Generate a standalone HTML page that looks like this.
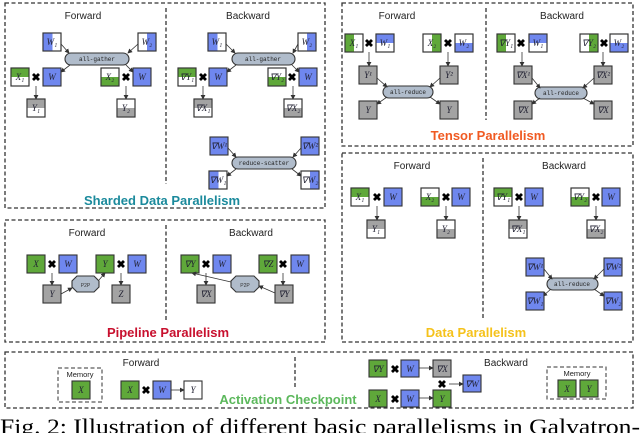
<!DOCTYPE html><html><head><meta charset="utf-8"><style>
body{margin:0;background:#fff}
svg text{font-family:"Liberation Sans",sans-serif}
.l{font-family:"Liberation Serif",serif;font-style:italic;font-size:9px;fill:#223;text-anchor:middle}
.h{font-size:10px;fill:#222;text-anchor:middle}
.op{font-family:"Liberation Mono",monospace;font-size:6px;fill:#222;text-anchor:middle}
.d{fill:none;stroke:#333;stroke-width:1.3;stroke-dasharray:4,2.5}
.b{stroke:#333;stroke-width:1.1}
.a{stroke:#333;stroke-width:0.8;fill:none;marker-end:url(#ar)}
.x{font-size:11px;font-weight:bold;text-anchor:middle;fill:#000}
.t{font-weight:bold;font-size:13px;text-anchor:middle}
</style></head><body>
<svg width="640" height="433" viewBox="0 0 640 433">
<defs><marker id="ar" markerWidth="6" markerHeight="6" refX="5" refY="3" orient="auto"><path d="M0,0L6,3L0,6z" fill="#333"/></marker></defs>
<rect class="d" x="5" y="3" width="320" height="205"/><line class="d" x1="166" y1="8" x2="166" y2="184"/>
<rect class="d" x="342" y="3" width="291" height="143"/><line class="d" x1="486" y1="8" x2="486" y2="120"/>
<rect class="d" x="342" y="153" width="291" height="189"/><line class="d" x1="483" y1="158" x2="483" y2="318"/>
<rect class="d" x="5" y="220" width="320" height="122"/><line class="d" x1="166" y1="225" x2="166" y2="322"/>
<rect class="d" x="5" y="352" width="628" height="56"/><line class="d" x1="295" y1="357" x2="295" y2="387"/>
<text class="h" x="83" y="19">Forward</text><text class="h" x="248" y="19">Backward</text>
<text class="h" x="397" y="19">Forward</text><text class="h" x="562" y="19">Backward</text>
<text class="h" x="412" y="169">Forward</text><text class="h" x="564" y="169">Backward</text>
<text class="h" x="87" y="236">Forward</text><text class="h" x="251" y="236">Backward</text>
<text class="h" x="141" y="366">Forward</text><text class="h" x="506" y="366">Backward</text>
<text class="t" x="162" y="205" fill="#1b8a9c">Sharded Data Parallelism</text>
<text class="t" x="488" y="140" fill="#f05a22">Tensor Parallelism</text>
<text class="t" x="476" y="337" fill="#f5c21b">Data Parallelism</text>
<text class="t" x="168" y="337" fill="#c8102e">Pipeline Parallelism</text>
<text class="t" x="288" y="404" fill="#5cb85c">Activation Checkpoint</text>

<g>
<rect class="b" x="43" y="33" width="18" height="18" fill="#fff"/><rect x="43.5" y="33.5" width="9" height="17" fill="#6f87ee"/><rect class="b" x="43" y="33" width="18" height="18" fill="none"/><text class="l" x="52" y="45">W₁</text>
<rect class="b" x="138" y="33" width="18" height="18" fill="#fff"/><rect x="147" y="33.5" width="8.5" height="17" fill="#6f87ee"/><rect class="b" x="138" y="33" width="18" height="18" fill="none"/><text class="l" x="147" y="45">W₂</text>
<rect class="b" x="65" y="53" width="64" height="12" rx="6" fill="#b0bccb"/><text class="op" x="97" y="61">all-gather</text>
<path class="a" d="M61,44L69,53"/><path class="a" d="M138,44L128,53"/><path class="a" d="M70,65L61,72"/><path class="a" d="M126,65L133,72"/>
<rect class="b" x="11" y="68" width="18" height="18" fill="#fff"/><rect x="11.5" y="68.5" width="17" height="8.5" fill="#5fa83a"/><rect class="b" x="11" y="68" width="18" height="18" fill="none"/><text class="l" x="20" y="80">X₁</text>
<text class="x" x="36" y="81">✖</text>
<rect class="b" x="43" y="68" width="18" height="18" fill="#6f87ee"/><text class="l" x="52" y="80">W</text>
<rect class="b" x="101" y="68" width="18" height="18" fill="#fff"/><rect x="101.5" y="77" width="17" height="8.5" fill="#5fa83a"/><rect class="b" x="101" y="68" width="18" height="18" fill="none"/><text class="l" x="110" y="80">X₂</text>
<text class="x" x="126" y="81">✖</text>
<rect class="b" x="133" y="68" width="18" height="18" fill="#6f87ee"/><text class="l" x="142" y="80">W</text>
<path class="a" d="M36,86L36,99"/><path class="a" d="M126,86L126,99"/>
<rect class="b" x="27" y="99" width="18" height="18" fill="#fff"/><rect x="27.5" y="99.5" width="17" height="8.5" fill="#a3a3a3"/><rect class="b" x="27" y="99" width="18" height="18" fill="none"/><text class="l" x="36" y="111">Y₁</text>
<rect class="b" x="117" y="99" width="18" height="18" fill="#fff"/><rect x="117.5" y="108" width="17" height="8.5" fill="#a3a3a3"/><rect class="b" x="117" y="99" width="18" height="18" fill="none"/><text class="l" x="126" y="111">Y₂</text>
</g>
<g>
<rect class="b" x="208" y="33" width="18" height="18" fill="#fff"/><rect x="208.5" y="33.5" width="9" height="17" fill="#6f87ee"/><rect class="b" x="208" y="33" width="18" height="18" fill="none"/><text class="l" x="217" y="45">W₁</text>
<rect class="b" x="298" y="33" width="18" height="18" fill="#fff"/><rect x="307" y="33.5" width="8.5" height="17" fill="#6f87ee"/><rect class="b" x="298" y="33" width="18" height="18" fill="none"/><text class="l" x="307" y="45">W₂</text>
<rect class="b" x="232" y="53" width="63" height="12" rx="6" fill="#b0bccb"/><text class="op" x="263" y="61">all-gather</text>
<path class="a" d="M226,44L235,53"/><path class="a" d="M298,44L293,53"/><path class="a" d="M236,65L227,72"/><path class="a" d="M292,65L299,72"/>
<rect class="b" x="178" y="68" width="18" height="18" fill="#fff"/><rect x="178.5" y="68.5" width="17" height="8.5" fill="#5fa83a"/><rect class="b" x="178" y="68" width="18" height="18" fill="none"/><text class="l" x="187" y="80">∇Y₁</text>
<text class="x" x="203" y="81">✖</text>
<rect class="b" x="209" y="68" width="18" height="18" fill="#6f87ee"/><text class="l" x="218" y="80">W</text>
<rect class="b" x="268" y="68" width="18" height="18" fill="#fff"/><rect x="268.5" y="77" width="17" height="8.5" fill="#5fa83a"/><rect class="b" x="268" y="68" width="18" height="18" fill="none"/><text class="l" x="277" y="80">∇Y₂</text>
<text class="x" x="292" y="81">✖</text>
<rect class="b" x="299" y="68" width="18" height="18" fill="#6f87ee"/><text class="l" x="308" y="80">W</text>
<path class="a" d="M203,86L203,99"/><path class="a" d="M293,86L293,99"/>
<rect class="b" x="194" y="99" width="18" height="18" fill="#fff"/><rect x="194.5" y="99.5" width="17" height="8.5" fill="#a3a3a3"/><rect class="b" x="194" y="99" width="18" height="18" fill="none"/><text class="l" x="203" y="111">∇X₁</text>
<rect class="b" x="284" y="99" width="18" height="18" fill="#fff"/><rect x="284.5" y="108" width="17" height="8.5" fill="#a3a3a3"/><rect class="b" x="284" y="99" width="18" height="18" fill="none"/><text class="l" x="293" y="111">∇X₂</text>
<rect class="b" x="210" y="137" width="18" height="18" fill="#6f87ee"/><text class="l" x="219" y="149">∇W¹</text>
<rect class="b" x="301" y="137" width="18" height="18" fill="#6f87ee"/><text class="l" x="310" y="149">∇W²</text>
<rect class="b" x="232" y="157" width="64" height="12" rx="6" fill="#b0bccb"/><text class="op" x="264" y="165">reduce-scatter</text>
<path class="a" d="M228,148L236,157"/><path class="a" d="M301,148L293,157"/><path class="a" d="M236,169L227,176"/><path class="a" d="M292,169L301,176"/>
<rect class="b" x="209" y="171" width="18" height="18" fill="#fff"/><rect x="209.5" y="171.5" width="9" height="17" fill="#6f87ee"/><rect class="b" x="209" y="171" width="18" height="18" fill="none"/><text class="l" x="218" y="183">∇W₁</text>
<rect class="b" x="301" y="171" width="18" height="18" fill="#fff"/><rect x="310" y="171.5" width="8.5" height="17" fill="#6f87ee"/><rect class="b" x="301" y="171" width="18" height="18" fill="none"/><text class="l" x="310" y="183">∇W₂</text>
</g>
<g>
<rect class="b" x="345" y="34" width="18" height="18" fill="#fff"/><rect x="345.5" y="34.5" width="8.5" height="17" fill="#5fa83a"/><rect class="b" x="345" y="34" width="18" height="18" fill="none"/><text class="l" x="354" y="46">X₁</text>
<text class="x" x="369" y="47">✖</text>
<rect class="b" x="376" y="34" width="18" height="18" fill="#fff"/><rect x="376.5" y="34.5" width="17" height="8.5" fill="#6f87ee"/><rect class="b" x="376" y="34" width="18" height="18" fill="none"/><text class="l" x="385" y="46">W₁</text>
<rect class="b" x="423" y="34" width="18" height="18" fill="#fff"/><rect x="432" y="34.5" width="8.5" height="17" fill="#5fa83a"/><rect class="b" x="423" y="34" width="18" height="18" fill="none"/><text class="l" x="432" y="46">X₂</text>
<text class="x" x="448" y="47">✖</text>
<rect class="b" x="455" y="34" width="18" height="18" fill="#fff"/><rect x="455.5" y="43" width="17" height="8.5" fill="#6f87ee"/><rect class="b" x="455" y="34" width="18" height="18" fill="none"/><text class="l" x="464" y="46">W₂</text>
<path class="a" d="M369,52L369,66"/><path class="a" d="M448,52L448,66"/>
<rect class="b" x="359" y="66" width="18" height="18" fill="#a3a3a3"/><text class="l" x="368" y="78">Y¹</text>
<rect class="b" x="440" y="66" width="18" height="18" fill="#a3a3a3"/><text class="l" x="449" y="78">Y²</text>
<rect class="b" x="383" y="86" width="50" height="12" rx="6" fill="#b0bccb"/><text class="op" x="408" y="94">all-reduce</text>
<path class="a" d="M377,78L387,87"/><path class="a" d="M440,78L430,87"/><path class="a" d="M387,97L377,104"/><path class="a" d="M430,97L440,104"/>
<rect class="b" x="359" y="101" width="18" height="18" fill="#a3a3a3"/><text class="l" x="368" y="113">Y</text>
<rect class="b" x="440" y="101" width="18" height="18" fill="#a3a3a3"/><text class="l" x="449" y="113">Y</text>

<rect class="b" x="497" y="34" width="18" height="18" fill="#fff"/><rect x="497.5" y="34.5" width="8.5" height="17" fill="#5fa83a"/><rect class="b" x="497" y="34" width="18" height="18" fill="none"/><text class="l" x="506" y="46">∇Y₁</text>
<text class="x" x="521" y="47">✖</text>
<rect class="b" x="529" y="34" width="18" height="18" fill="#fff"/><rect x="529.5" y="34.5" width="17" height="8.5" fill="#6f87ee"/><rect class="b" x="529" y="34" width="18" height="18" fill="none"/><text class="l" x="538" y="46">W₁</text>
<rect class="b" x="580" y="34" width="18" height="18" fill="#fff"/><rect x="589" y="34.5" width="8.5" height="17" fill="#5fa83a"/><rect class="b" x="580" y="34" width="18" height="18" fill="none"/><text class="l" x="589" y="46">∇Y₂</text>
<text class="x" x="604" y="47">✖</text>
<rect class="b" x="610" y="34" width="18" height="18" fill="#fff"/><rect x="610.5" y="43" width="17" height="8.5" fill="#6f87ee"/><rect class="b" x="610" y="34" width="18" height="18" fill="none"/><text class="l" x="619" y="46">W₂</text>
<path class="a" d="M522,52L522,66"/><path class="a" d="M603,52L603,66"/>
<rect class="b" x="514" y="66" width="18" height="18" fill="#a3a3a3"/><text class="l" x="523" y="78">∇X¹</text>
<rect class="b" x="594" y="66" width="18" height="18" fill="#a3a3a3"/><text class="l" x="603" y="78">∇X²</text>
<rect class="b" x="535" y="87" width="52" height="12" rx="6" fill="#b0bccb"/><text class="op" x="561" y="95">all-reduce</text>
<path class="a" d="M532,78L540,88"/><path class="a" d="M594,78L583,88"/><path class="a" d="M540,98L532,104"/><path class="a" d="M583,98L594,104"/>
<rect class="b" x="514" y="101" width="18" height="18" fill="#a3a3a3"/><text class="l" x="523" y="113">∇X</text>
<rect class="b" x="594" y="101" width="18" height="18" fill="#a3a3a3"/><text class="l" x="603" y="113">∇X</text>
</g>
<g>
<rect class="b" x="351" y="188" width="18" height="18" fill="#fff"/><rect x="351.5" y="188.5" width="17" height="8.5" fill="#5fa83a"/><rect class="b" x="351" y="188" width="18" height="18" fill="none"/><text class="l" x="360" y="200">X₁</text>
<text class="x" x="377" y="201">✖</text>
<rect class="b" x="384" y="188" width="18" height="18" fill="#6f87ee"/><text class="l" x="393" y="200">W</text>
<rect class="b" x="421" y="188" width="18" height="18" fill="#fff"/><rect x="421.5" y="197" width="17" height="8.5" fill="#5fa83a"/><rect class="b" x="421" y="188" width="18" height="18" fill="none"/><text class="l" x="430" y="200">X₂</text>
<text class="x" x="446" y="201">✖</text>
<rect class="b" x="452" y="188" width="18" height="18" fill="#6f87ee"/><text class="l" x="461" y="200">W</text>
<path class="a" d="M377,206L377,220"/><path class="a" d="M446,206L446,220"/>
<rect class="b" x="367" y="220" width="18" height="18" fill="#fff"/><rect x="367.5" y="220.5" width="17" height="8.5" fill="#a3a3a3"/><rect class="b" x="367" y="220" width="18" height="18" fill="none"/><text class="l" x="376" y="232">Y₁</text>
<rect class="b" x="437" y="220" width="18" height="18" fill="#fff"/><rect x="437.5" y="229" width="17" height="8.5" fill="#a3a3a3"/><rect class="b" x="437" y="220" width="18" height="18" fill="none"/><text class="l" x="446" y="232">Y₂</text>

<rect class="b" x="494" y="188" width="18" height="18" fill="#fff"/><rect x="494.5" y="188.5" width="17" height="8.5" fill="#5fa83a"/><rect class="b" x="494" y="188" width="18" height="18" fill="none"/><text class="l" x="503" y="200">∇Y₁</text>
<text class="x" x="519" y="201">✖</text>
<rect class="b" x="525" y="188" width="18" height="18" fill="#6f87ee"/><text class="l" x="534" y="200">W</text>
<rect class="b" x="571" y="188" width="18" height="18" fill="#fff"/><rect x="571.5" y="197" width="17" height="8.5" fill="#5fa83a"/><rect class="b" x="571" y="188" width="18" height="18" fill="none"/><text class="l" x="580" y="200">∇Y₂</text>
<text class="x" x="596" y="201">✖</text>
<rect class="b" x="602" y="188" width="18" height="18" fill="#6f87ee"/><text class="l" x="611" y="200">W</text>
<path class="a" d="M519,206L519,220"/><path class="a" d="M596,206L596,220"/>
<rect class="b" x="509" y="220" width="18" height="18" fill="#fff"/><rect x="509.5" y="220.5" width="17" height="8.5" fill="#a3a3a3"/><rect class="b" x="509" y="220" width="18" height="18" fill="none"/><text class="l" x="518" y="232">∇X₁</text>
<rect class="b" x="587" y="220" width="18" height="18" fill="#fff"/><rect x="587.5" y="229" width="17" height="8.5" fill="#a3a3a3"/><rect class="b" x="587" y="220" width="18" height="18" fill="none"/><text class="l" x="596" y="232">∇X₂</text>
<rect class="b" x="526" y="258" width="18" height="18" fill="#6f87ee"/><text class="l" x="535" y="270">∇W¹</text>
<rect class="b" x="604" y="258" width="18" height="18" fill="#6f87ee"/><text class="l" x="613" y="270">∇W²</text>
<rect class="b" x="547" y="278" width="51" height="12" rx="6" fill="#b0bccb"/><text class="op" x="572" y="286">all-reduce</text>
<path class="a" d="M544,269L552,279"/><path class="a" d="M604,269L594,279"/><path class="a" d="M551,289L543,296"/><path class="a" d="M594,289L604,296"/>
<rect class="b" x="526" y="292" width="18" height="18" fill="#6f87ee"/><text class="l" x="535" y="304">∇W₁</text>
<rect class="b" x="604" y="292" width="18" height="18" fill="#6f87ee"/><text class="l" x="613" y="304">∇W₂</text>
</g>
<g>
<rect class="b" x="27" y="255" width="18" height="18" fill="#5fa83a"/><text class="l" x="36" y="267">X</text>
<text class="x" x="52" y="268">✖</text>
<rect class="b" x="59" y="255" width="18" height="18" fill="#6f87ee"/><text class="l" x="68" y="267">W</text>
<rect class="b" x="96" y="255" width="18" height="18" fill="#5fa83a"/><text class="l" x="105" y="267">Y</text>
<text class="x" x="121" y="268">✖</text>
<rect class="b" x="128" y="255" width="18" height="18" fill="#6f87ee"/><text class="l" x="137" y="267">W</text>
<path class="a" d="M52,273L52,285"/><path class="a" d="M121,273L121,285"/>
<rect class="b" x="43" y="285" width="18" height="18" fill="#a3a3a3"/><text class="l" x="52" y="297">Y</text>
<path class="b" d="M77,276H94L99,281V287L94,292H77L72,287V281Z" fill="#b0bccb"/><text x="85.5" y="287" font-size="5" text-anchor="middle" fill="#333">P2P</text>
<path class="a" d="M61,294L72,288"/><path class="a" d="M99,280L105,273"/>
<rect class="b" x="112" y="285" width="18" height="18" fill="#a3a3a3"/><text class="l" x="121" y="297">Z</text>

<rect class="b" x="181" y="255" width="18" height="18" fill="#5fa83a"/><text class="l" x="190" y="267">∇Y</text>
<text class="x" x="206" y="268">✖</text>
<rect class="b" x="213" y="255" width="18" height="18" fill="#6f87ee"/><text class="l" x="222" y="267">W</text>
<rect class="b" x="259" y="255" width="18" height="18" fill="#5fa83a"/><text class="l" x="268" y="267">∇Z</text>
<text class="x" x="283" y="268">✖</text>
<rect class="b" x="291" y="255" width="18" height="18" fill="#6f87ee"/><text class="l" x="300" y="267">W</text>
<path class="a" d="M206,273L206,285"/><path class="a" d="M283,273L283,285"/>
<rect class="b" x="197" y="285" width="18" height="18" fill="#a3a3a3"/><text class="l" x="206" y="297">∇X</text>
<path class="b" d="M236,276H254L259,281V287L254,292H236L231,287V281Z" fill="#b0bccb"/><text x="245" y="287" font-size="5" text-anchor="middle" fill="#333">P2P</text>
<path class="a" d="M275,293L259,286"/><path class="a" d="M231,282L192,273"/>
<rect class="b" x="275" y="285" width="18" height="18" fill="#a3a3a3"/><text class="l" x="284" y="297">∇Y</text>
</g>
<g>
<rect class="d" x="58" y="368" width="44" height="34" style="stroke-width:1"/><text x="80" y="377" font-size="7.5" text-anchor="middle" fill="#222">Memory</text>
<rect class="b" x="72" y="381" width="18" height="18" fill="#5fa83a"/><text class="l" x="81" y="393">X</text>
<rect class="b" x="121" y="381" width="18" height="18" fill="#5fa83a"/><text class="l" x="130" y="393">X</text>
<text class="x" x="146" y="394">✖</text>
<rect class="b" x="153" y="381" width="18" height="18" fill="#6f87ee"/><text class="l" x="162" y="393">W</text>
<path class="a" d="M171,390L184,390"/>
<rect class="b" x="184" y="381" width="18" height="18" fill="#fff"/><text class="l" x="193" y="393">Y</text>

<rect class="b" x="369" y="360" width="18" height="17" fill="#5fa83a"/><text class="l" x="378" y="372">∇Y</text>
<text class="x" x="395" y="373">✖</text>
<rect class="b" x="401" y="360" width="18" height="17" fill="#6f87ee"/><text class="l" x="410" y="372">W</text>
<path class="a" d="M419,368L433,368"/>
<rect class="b" x="433" y="360" width="18" height="17" fill="#a3a3a3"/><text class="l" x="442" y="372">∇X</text>
<text class="x" x="442" y="388">✖</text>
<path class="a" d="M449,384L463,384"/>
<rect class="b" x="463" y="375" width="18" height="17" fill="#6f87ee"/><text class="l" x="472" y="387">∇W</text>
<rect class="b" x="369" y="390" width="18" height="17" fill="#5fa83a"/><text class="l" x="378" y="402">X</text>
<text class="x" x="395" y="403">✖</text>
<rect class="b" x="401" y="390" width="18" height="17" fill="#6f87ee"/><text class="l" x="410" y="402">W</text>
<path class="a" d="M419,398L433,398"/>
<rect class="b" x="433" y="390" width="18" height="17" fill="#5fa83a"/><text class="l" x="442" y="402">Y</text>
<rect class="d" x="547" y="367" width="59" height="32" style="stroke-width:1"/><text x="577" y="376" font-size="7.5" text-anchor="middle" fill="#222">Memory</text>
<rect class="b" x="558" y="380" width="18" height="17" fill="#5fa83a"/><text class="l" x="567" y="392">X</text>
<rect class="b" x="580" y="380" width="18" height="17" fill="#5fa83a"/><text class="l" x="589" y="392">Y</text>
</g>
<text x="0" y="434" font-size="22" fill="#000" textLength="640" lengthAdjust="spacingAndGlyphs" style="font-family:'Liberation Serif',serif">Fig. 2: Illustration of different basic parallelisms in Galvatron-</text>
</svg>
</body></html>
